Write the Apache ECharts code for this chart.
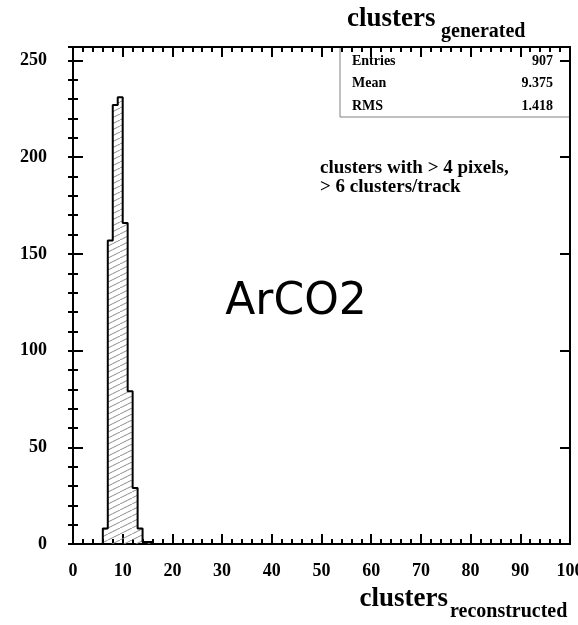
<!DOCTYPE html>
<html>
<head>
<meta charset="utf-8">
<script src="https://cdn.jsdelivr.net/npm/echarts@6/dist/echarts.min.js"></script>
<style>
  html, body { margin: 0; padding: 0; background: #fff; }
  #chart { width: 578px; height: 625px; }
</style>
</head>
<body>
<div id="chart"></div>
<script>
// histogram bins (width 1)
const binLow = [6, 7, 8, 9, 10, 11, 12, 13, 14, 15];
const counts = [8, 157, 227, 231, 166, 79, 29, 8, 1, 1];
const binWidth = 1;

const statNames = ["Entries", "Mean", "RMS"];
const statValues = ["907", "9.375", "1.418"];

const xMin = 0, xMax = 100;
const yMin = 0, yMax = 257;

const serif = "'Liberation Serif', 'DejaVu Serif', serif";

// hatch fill like ROOT's fill style
function hatch() {
  const c = document.createElement("canvas");
  c.width = 12; c.height = 6;
  const g = c.getContext("2d");
  g.strokeStyle = "#8a8a8a";
  g.lineWidth = 1;
  g.beginPath();
  g.moveTo(-12, 6); g.lineTo(0, 0);
  g.moveTo(0, 6); g.lineTo(12, 0);
  g.moveTo(12, 6); g.lineTo(24, 0);
  g.stroke();
  return c;
}
const pattern = { image: hatch(), repeat: "repeat" };

// outline of the histogram as a step line
const outline = [[binLow[0], 0]];
binLow.forEach((lo, i) => {
  outline.push([lo, counts[i]]);
  outline.push([lo + binWidth, counts[i]]);
});
outline.push([binLow[binLow.length - 1] + binWidth, 0]);

const chart = echarts.init(document.getElementById("chart"));

const tickLine = { color: "#000", width: 2 };

chart.setOption({
  animation: false,
  grid: {
    left: 73, right: 8, top: 47, bottom: 81,
    outerBoundsMode: "none", containLabel: false,
    show: true, borderColor: "#000", borderWidth: 2
  },
  xAxis: [
    {
      type: "value", min: xMin, max: xMax, interval: 10, position: "bottom",
      axisLine: { show: true, onZero: false, lineStyle: tickLine },
      axisTick: { inside: true, length: 10, lineStyle: tickLine },
      minorTick: { show: true, splitNumber: 5, length: 5, lineStyle: { color: "#000", width: 2 } },
      splitLine: { show: false },
      axisLabel: { fontFamily: serif, fontWeight: "bold", fontSize: 18, color: "#000", margin: 18, hideOverlap: false }
    },
    {
      type: "value", min: xMin, max: xMax, interval: 10, position: "top",
      axisLine: { show: true, onZero: false, lineStyle: tickLine },
      axisTick: { inside: true, length: 10, lineStyle: tickLine },
      minorTick: { show: true, splitNumber: 5, length: 5, lineStyle: { color: "#000", width: 2 } },
      splitLine: { show: false },
      axisLabel: { show: false }
    }
  ],
  yAxis: [
    {
      type: "value", min: yMin, max: yMax, interval: 50, position: "left",
      axisLine: { show: true, onZero: false, lineStyle: tickLine },
      axisTick: { inside: true, length: 10, lineStyle: tickLine },
      splitLine: { show: false },
      axisLabel: { fontFamily: serif, fontWeight: "bold", fontSize: 18, color: "#000", margin: 26, showMaxLabel: false }
    },
    {
      type: "value", min: yMin, max: yMax, interval: 10, position: "left",
      axisLine: { show: false },
      axisTick: { inside: true, length: 5, lineStyle: tickLine },
      splitLine: { show: false },
      axisLabel: { show: false }
    },
    {
      type: "value", min: yMin, max: yMax, interval: 50, position: "right",
      axisLine: { show: true, onZero: false, lineStyle: tickLine },
      axisTick: { inside: true, length: 10, lineStyle: tickLine },
      splitLine: { show: false },
      axisLabel: { show: false }
    },
    {
      type: "value", min: yMin, max: yMax, interval: 10, position: "right",
      axisLine: { show: false },
      axisTick: { inside: true, length: 5, lineStyle: tickLine },
      splitLine: { show: false },
      axisLabel: { show: false }
    }
  ],
  series: [
    {
      type: "custom",
      xAxisIndex: 0,
      yAxisIndex: 0,
      data: binLow.map((lo, i) => [lo, lo + binWidth, counts[i]]),
      renderItem: function (params, api) {
        const p0 = api.coord([api.value(0), 0]);
        const p1 = api.coord([api.value(1), api.value(2)]);
        return {
          type: "rect",
          shape: { x: p0[0], y: p1[1], width: p1[0] - p0[0], height: p0[1] - p1[1] },
          style: { fill: pattern }
        };
      },
      z: 1
    },
    {
      type: "line",
      xAxisIndex: 0,
      yAxisIndex: 0,
      data: outline,
      symbol: "none",
      lineStyle: { color: "#000", width: 2 },
      z: 2
    }
  ],
  graphic: [
    // title
    { type: "text", x: 347, y: 19, style: { text: "clusters", font: "bold 27px " + serif, fill: "#000", verticalAlign: "middle" } },
    { type: "text", x: 441, y: 32, style: { text: "generated", font: "bold 20px " + serif, fill: "#000", verticalAlign: "middle" } },
    // stats box
    { type: "rect", shape: { x: 340, y: 47, width: 230, height: 70 }, style: { fill: "none", stroke: "#808080", lineWidth: 1 } },
    ...statNames.map((n, i) => ({
      type: "text", x: 352, y: 61 + i * 22.5,
      style: { text: n, font: "bold 14px " + serif, fill: "#000", verticalAlign: "middle", align: "left" }
    })),
    ...statValues.map((v, i) => ({
      type: "text", x: 553, y: 61 + i * 22.5,
      style: { text: v, font: "bold 14px " + serif, fill: "#000", verticalAlign: "middle", align: "right" }
    })),
    // annotations
    { type: "text", x: 320, y: 168, style: { text: "clusters with > 4 pixels,", font: "bold 19px " + serif, fill: "#000", verticalAlign: "middle" } },
    { type: "text", x: 320, y: 187, style: { text: "> 6 clusters/track", font: "bold 19px " + serif, fill: "#000", verticalAlign: "middle" } },
    { type: "text", x: 296, y: 303, style: { text: "ArCO2", font: "44px 'DejaVu Sans', sans-serif", fill: "#000", verticalAlign: "middle", align: "center" } },
    // x axis name
    { type: "text", x: 448, y: 599, style: { text: "clusters", font: "bold 27px " + serif, fill: "#000", verticalAlign: "middle", align: "right" } },
    { type: "text", x: 450, y: 612, style: { text: "reconstructed", font: "bold 20px " + serif, fill: "#000", verticalAlign: "middle", align: "left" } }
  ]
});
</script>
</body>
</html>
